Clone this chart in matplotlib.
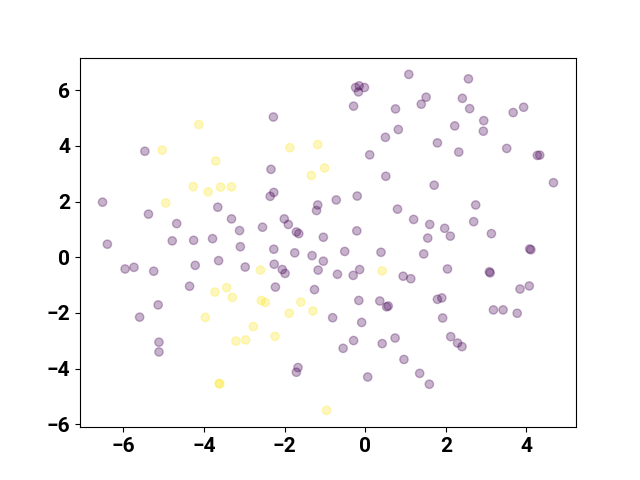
import matplotlib
matplotlib.use("Agg")
import matplotlib.pyplot as plt
import numpy as np

# class 0 points (purple)
x0 = [-5.47, -6.52, -3.66, -5.38, -3.32, -4.68, -3.12, -6.40, -4.79, -4.26,
      -3.79, -3.10, 1.08, -0.24, -0.15, -0.02, -0.17, -0.29, 0.75, -2.28,
      0.82, 0.50, 0.11, -2.34, 0.51, -2.27, -2.36, -1.18, -1.21, -0.72,
      -0.20, 0.80, -2.01, -1.91, -2.55, -1.71, -1.65, -1.04, -0.21, 2.56,
      1.51, 1.39, 2.41, 2.59, 3.67, 3.93, 2.22, 2.94, 2.93, 1.79,
      2.32, 3.51, 4.27, 4.33, 4.67, 1.71, 2.74, 2.69, 1.20, 1.60,
      1.97, 1.55, 2.11, 3.13, 4.08, 4.11, -5.96, -5.74, -5.25, -4.22,
      -3.64, -2.98, -4.36, -5.14, -5.60, -5.12, -5.12, -2.27, -1.75, -1.32,
      -1.04, -0.51, 0.39, -2.26, -2.06, -1.99, -1.17, -0.69, -0.30, -0.14,
      0.94, 1.13, -2.23, -1.26, -0.81, -0.16, 0.36, 0.53, 0.57, -0.09,
      -0.55, -0.29, 0.42, 0.74, 0.96, -1.67, -1.71, 0.06, 1.45, 2.04,
      3.08, 3.10, 3.84, 4.07, 1.79, 1.90, 1.92, 3.18, 3.42, 3.77,
      2.12, 2.29, 2.40, 1.35, 1.59]
y0 = [3.81, 1.98, 1.80, 1.55, 1.38, 1.21, 0.96, 0.47, 0.59, 0.61,
      0.67, 0.38, 6.57, 6.10, 6.16, 6.10, 5.94, 5.43, 5.33, 5.04,
      4.59, 4.31, 3.68, 3.16, 2.91, 2.33, 2.19, 1.88, 1.68, 2.06,
      2.20, 1.73, 1.38, 1.18, 1.08, 0.91, 0.85, 0.72, 0.95, 6.41,
      5.75, 5.50, 5.71, 5.34, 5.20, 5.39, 4.72, 4.91, 4.53, 4.11,
      3.78, 3.91, 3.66, 3.67, 2.68, 2.59, 1.88, 1.28, 1.36, 1.18,
      1.04, 0.69, 0.76, 0.85, 0.30, 0.27, -0.42, -0.36, -0.50, -0.29,
      -0.12, -0.35, -1.04, -1.71, -2.15, -3.05, -3.40, 0.29, 0.16, 0.06,
      -0.14, 0.21, 0.18, -0.25, -0.44, -0.58, -0.46, -0.61, -0.65, -0.44,
      -0.68, -0.77, -1.07, -1.16, -2.17, -1.55, -1.57, -1.78, -1.75, -2.34,
      -3.27, -2.99, -3.10, -2.90, -3.67, -3.96, -4.13, -4.30, 0.12, -0.42,
      -0.52, -0.56, -1.14, -1.03, -1.51, -1.46, -2.18, -1.89, -1.89, -2.01,
      -2.85, -3.08, -3.21, -4.17, -4.56]

# class 1 points (yellow)
x1 = [-4.13, -5.04, -3.71, -4.27, -3.90, -3.59, -3.32, -4.95, -1.87, -1.18,
      -1.01, -1.34, -3.73, -3.44, -3.30, -3.97, -3.21, -2.97, -3.63, -3.61,
      -2.60, 0.42, -2.58, -2.48, -1.60, -1.89, -1.30, -2.78, -2.24, -0.96]
y1 = [4.77, 3.85, 3.46, 2.54, 2.35, 2.52, 2.53, 1.95, 3.94, 4.05,
      3.21, 2.94, -1.25, -1.09, -1.44, -2.16, -3.01, -2.97, -4.53, -4.55,
      -0.46, -0.49, -1.55, -1.62, -1.61, -2.01, -1.93, -2.49, -2.84, -5.50]

X = np.array(x0 + x1)
Y = np.array(y0 + y1)
labels = np.array([0] * len(x0) + [1] * len(x1))

plt.rcParams['font.family'] = ['Roboto', 'DejaVu Sans']
plt.rcParams['font.weight'] = 'bold'

fig, ax = plt.subplots(figsize=(6.4, 4.8), dpi=100)
ax.scatter(X, Y, c=labels, cmap='viridis', alpha=0.3)
ax.tick_params(labelsize=15)
for lab in ax.get_xticklabels() + ax.get_yticklabels():
    lab.set_fontweight('bold')

fig.savefig("out.png")
